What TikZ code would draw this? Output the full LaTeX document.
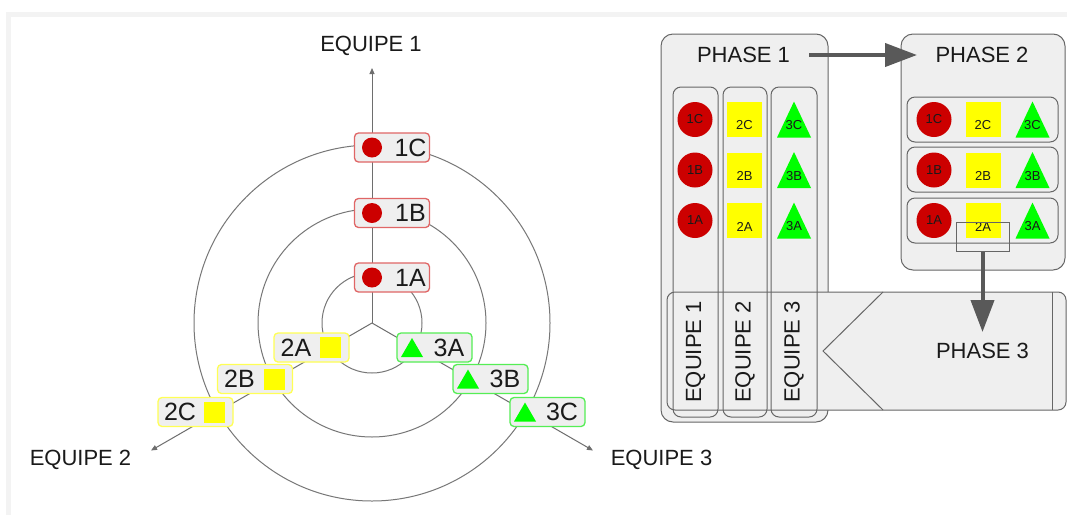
\documentclass[tikz,border=0pt]{standalone}
\usepackage{fontspec}
\setmainfont{Liberation Sans}
\usetikzlibrary{arrows.meta,calc}
\definecolor{boxfill}{HTML}{EFEFEF}
\definecolor{framec}{HTML}{F3F3F3}
\definecolor{linec}{HTML}{777777}
\definecolor{axisc}{HTML}{6E6E6E}
\definecolor{redb}{HTML}{E06666}
\definecolor{redm}{HTML}{CC0000}
\definecolor{yelb}{HTML}{FFFF55}
\definecolor{yelm}{HTML}{FFFF00}
\definecolor{grnb}{HTML}{55EE55}
\definecolor{grnm}{HTML}{00FF00}
\definecolor{phb}{HTML}{666666}
\definecolor{arrc}{HTML}{595959}
\definecolor{txtc}{HTML}{1A1A1A}
\newcommand\gtri[4]{\fill[grnm] ($(#1)+(#2-#3/2,#4/2)$) -- ($(#1)+(#2+#3/2,#4/2)$) -- ($(#1)+(#2,-#4/2)$) -- cycle;}
\tikzset{
  lbox/.style={draw, fill=boxfill, rounded corners=4pt, minimum width=75pt, minimum height=29pt, inner sep=0pt, line width=1.3pt},
  redmark/.style={circle, fill=redm, minimum size=20pt, inner sep=0pt},
  yelmark/.style={fill=yelm, minimum size=21pt, inner sep=0pt},
  lbl/.style={font=\fontsize{25}{25}\selectfont, text=txtc, inner sep=0pt},
  axlbl/.style={font=\fontsize{22}{22}\selectfont, text=txtc, inner sep=0pt, anchor=base},
  phlbl/.style={font=\fontsize{22}{22}\selectfont, text=txtc, inner sep=0pt},
  ringc/.style={draw=linec, line width=1pt},
  axisline/.style={draw=axisc, line width=1pt, -{Triangle[length=6pt,width=5pt]}},
  phbox/.style={draw=phb, fill=boxfill, line width=1pt, rounded corners=12pt},
  colbox/.style={draw=phb, line width=1pt, rounded corners=8pt},
  small/.style={font=\fontsize{13}{13}\selectfont, text=txtc, inner sep=0pt},
  bigredm/.style={circle, fill=redm, minimum size=35pt, inner sep=0pt},
  bigyelm/.style={fill=yelm, minimum size=35pt, inner sep=0pt},
  bigarrow/.style={draw=arrc, line width=4pt, -{Triangle[length=32pt,width=23pt]}}
}
\begin{document}
\begin{tikzpicture}[x=1pt,y=-1pt]
\useasboundingbox (0,0) rectangle (1067,515);
\fill[white] (0,0) rectangle (1067,515);
\fill[framec] (6,12) rectangle (1067,17);
\fill[framec] (6,12) rectangle (11,515);
% ---------- left: rings ----------
\coordinate (C) at (372,323);
\draw[ringc] (C) circle[radius=50pt];
\draw[ringc] (C) circle[radius=114pt];
\draw[ringc] (C) circle[radius=178pt];
\coordinate (E1) at (372,68);
\coordinate (E2) at (151,450.5);
\coordinate (E3) at (593,450.5);
\draw[axisline] (C) -- (E1);
\draw[axisline] (C) -- (E2);
\draw[axisline] (C) -- (E3);
\node[axlbl] (lE1) at (371,51) {EQUIPE 1};
\node[axlbl] (lE2) at (80.5,465) {EQUIPE 2};
\node[axlbl] (lE3) at (661.5,465) {EQUIPE 3};
% team 1 boxes
\foreach \n/\x/\y in {1C/392/147.5,1B/392/213,1A/392/277.5}{
  \node[lbox, draw=redb] (b\n) at (\x,\y) {};
  \node[redmark] (m\n) at ([xshift=-20pt]b\n.center) {};
  \node[lbl] (t\n) at ([xshift=18.5pt]b\n.center) {\n};
}
% team 2 boxes
\foreach \n/\x/\y in {2A/311.5/347.5,2B/255/379,2C/195.5/412}{
  \node[lbox, draw=yelb] (b\n) at (\x,\y) {};
  \node[yelmark] (m\n) at ([xshift=19pt]b\n.center) {};
  \node[lbl] (t\n) at ([xshift=-15.5pt]b\n.center) {\n};
}
% team 3 boxes
\foreach \n/\x/\y in {3A/434.5/347.5,3B/490.5/379,3C/547.5/412}{
  \node[lbox, draw=grnb] (b\n) at (\x,\y) {};
  \gtri{b\n.center}{-22.5}{22}{19}
  \node[lbl] (t\n) at ([xshift=14.5pt]b\n.center) {\n};
}
% ---------- right: phases ----------
\draw[phbox] (661,34) rectangle (828,422);
\draw[phbox] (901,34) rectangle (1065,270);
\node[phlbl] (p1) at (743.5,55) {PHASE 1};
\node[phlbl] (p2) at (982,55) {PHASE 2};
% phase 2 rows
\foreach \ya/\yb in {97/142,147/192,198/243}{
  \draw[colbox] (907,\ya) rectangle (1058,\yb);
}
\foreach \r/\y in {C/119.5,B/170,A/220.5}{
  \node[bigredm] (q1\r) at (934,\y) {};
  \node[small] at (q1\r) {1\r};
  \node[bigyelm] (q2\r) at (983,\y) {};
  \node[small] at ([yshift=-6pt]q2\r.center) {2\r};
  \coordinate (q3\r) at (1032.5,\y);
  \gtri{q3\r}{0}{34}{36}
  \node[small] at ([yshift=-6pt]q3\r) {3\r};
}
\node[draw=phb, line width=1pt, minimum width=53pt, minimum height=29pt, inner sep=0pt] (sel) at (982.5,236.5) {};
% phase 3
\draw[phbox, rounded corners=8pt] (667,292) rectangle (1066,410);
\draw[draw=phb, line width=1pt] (883,292) -- (823,351) -- (883,410);
\draw[draw=phb, line width=1pt] (1052,292) -- (1052,410);
\node[phlbl] (p3) at (982.5,351) {PHASE 3};
% phase 1 columns
\draw[colbox] (673,87) rectangle (718,417);
\draw[colbox] (723,87) rectangle (767,417);
\draw[colbox] (771,87) rectangle (817,417);
\node[phlbl, rotate=90] (c1) at (695.5,352) {EQUIPE 1};
\node[phlbl, rotate=90] (c2) at (745,352) {EQUIPE 2};
\node[phlbl, rotate=90] (c3) at (794,352) {EQUIPE 3};
\foreach \r/\y in {C/119.5,B/170,A/220.5}{
  \node[bigredm] (s1\r) at (695,\y) {};
  \node[small] at (s1\r) {1\r};
  \node[bigyelm] (s2\r) at (744.5,\y) {};
  \node[small] at ([yshift=-6pt]s2\r.center) {2\r};
  \coordinate (s3\r) at (794,\y);
  \gtri{s3\r}{0}{34}{36}
  \node[small] at ([yshift=-6pt]s3\r) {3\r};
}
% arrows
\coordinate (a1s) at (809,55);
\coordinate (a1e) at (917,55);
\draw[bigarrow] (a1s) -- (a1e);
\coordinate (a2e) at (982.5,332);
\draw[bigarrow] (sel.south) -- (a2e);
\end{tikzpicture}
\end{document}
